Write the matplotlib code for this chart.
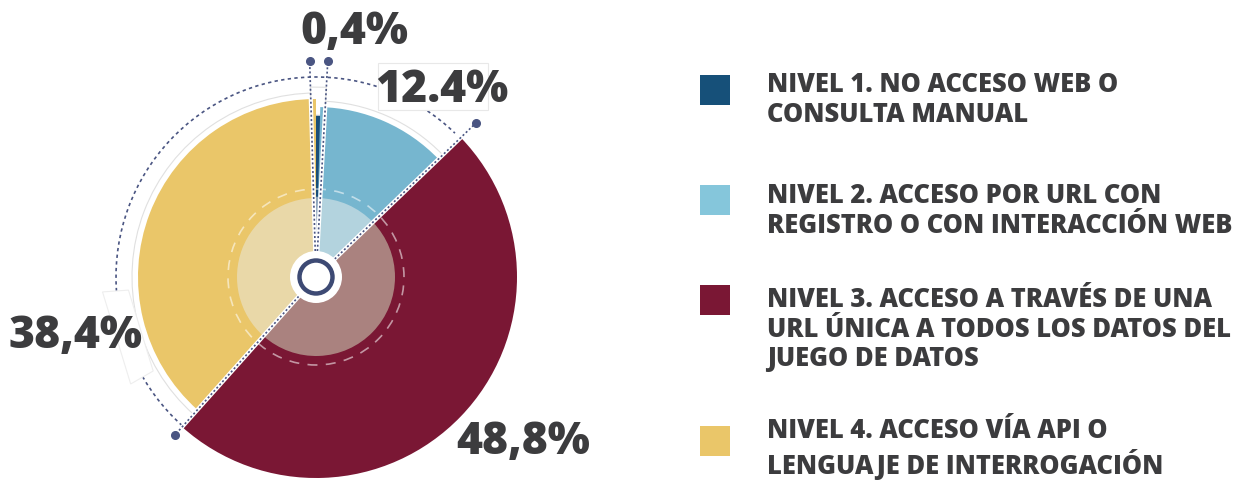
import numpy as np
import matplotlib
matplotlib.use("Agg")
import matplotlib.pyplot as plt
from matplotlib.patches import Wedge, Circle, Arc, Polygon, Rectangle

plt.rcParams['font.family'] = ['Open Sans', 'DejaVu Sans']

levels = ["NIVEL 1", "NIVEL 2", "NIVEL 3", "NIVEL 4"]
shares = [0.4, 12.4, 48.8, 38.4]
share_labels = ["0,4%", "12.4%", "48,8%", "38,4%"]
legend_texts = [
    "NIVEL 1. NO ACCESO WEB O\nCONSULTA MANUAL",
    "NIVEL 2. ACCESO POR URL CON\nREGISTRO O CON INTERACCIÓN WEB",
    "NIVEL 3. ACCESO A TRAVÉS DE UNA\nURL ÚNICA A TODOS LOS DATOS DEL\nJUEGO DE DATOS",
    "NIVEL 4. ACCESO VÍA API O\nLENGUAJE DE INTERROGACIÓN",
]

colors = ["#1A4E78", "#76B6CF", "#7A1734", "#EAC669"]
legend_colors = ["#165079", "#85C6DB", "#7A1734", "#EAC669"]
inner_colors = ["#8FA6BC", "#B3D3DE", "#AA827F", "#E9D8A8"]
radii = [160, 170, 201, 178]
text_color = "#3C3C3E"
navy = "#4A5582"

cx, cy = 316, 277

fig = plt.figure(figsize=(12.48, 4.82), dpi=100)
ax = fig.add_axes([0, 0, 1, 1])
ax.set_xlim(0, 1248)
ax.set_ylim(482, 0)
ax.set_aspect('equal')
ax.axis('off')


def pt(r, a):
    # a: data angle in degrees (y axis inverted -> clockwise on screen)
    return cx + r * np.cos(np.radians(a)), cy + r * np.sin(np.radians(a))


fr = np.array(shares) / sum(shares)
cum = np.concatenate([[0], np.cumsum(fr)])
t1 = -90 + 360 * cum[:-1]
t2 = -90 + 360 * cum[1:]

# outer dotted arc and faint outlines
ax.add_patch(Arc((cx, cy), 400, 400, theta1=-228, theta2=-46, color=navy,
                 lw=1.2, ls=(0, (2, 2)), zorder=1))
for i in (1, 3):
    ax.add_patch(Arc((cx, cy), 2 * (radii[i] + 6), 2 * (radii[i] + 6),
                     theta1=t1[i], theta2=t2[i], color="#E0E0E0", lw=0.8, zorder=1))

# label boxes
ax.add_patch(Rectangle((378, 63), 110, 47, facecolor="white",
                       edgecolor="#E8E8E8", lw=0.8, zorder=2))
a0, a1 = -184, -210
box = [pt(188, a0), pt(214, a0), pt(214, a1), pt(188, a1)]
ax.add_patch(Polygon(box, closed=True, facecolor="white", edgecolor="#EEEEEE",
                     lw=0.8, zorder=2))
m0 = (t1[0] + t2[0]) / 2
box2 = [pt(162, m0 - 2.4), pt(190, m0 - 2.4), pt(190, m0 + 2.4), pt(162, m0 + 2.4)]
ax.add_patch(Polygon(box2, closed=True, facecolor="white", edgecolor="#E0E0E0",
                     lw=0.8, zorder=2))

# slices
for i in range(4):
    ax.add_patch(Wedge((cx, cy), radii[i], t1[i], t2[i], facecolor=colors[i],
                       edgecolor=colors[i] if i == 0 else "none", lw=1.8, zorder=3))
    ax.add_patch(Wedge((cx, cy), 79, t1[i], t2[i], facecolor=inner_colors[i],
                       edgecolor=inner_colors[i] if i == 0 else "none", lw=1.8, zorder=4))

ax.add_patch(Circle((cx, cy), 88, fill=False, edgecolor="white", alpha=0.55,
                    lw=1.2, ls=(0, (6, 5)), zorder=4))

# white gaps between slices
gaps = [(m0 - 2.4, radii[3] + 2), (m0 + 2.4, radii[1] + 2), (t2[1], radii[2] + 2), (t2[2], radii[2] + 2)]
for a, r in gaps:
    x1, y1 = pt(r, a)
    ax.plot([cx, x1], [cy, y1], color="white", lw=3, solid_capstyle='butt', zorder=5)

# dotted leader lines
leaders = [(m0 - 2.4, 216), (m0 + 2.4, 216), (t2[1], 222), (t2[2], 212)]
for a, r in leaders:
    x1, y1 = pt(r, a)
    ax.plot([cx, x1], [cy, y1], color=navy, lw=1.2, ls=(0, (1.2, 1.4)), zorder=6)
    ax.plot(x1, y1, 'o', color=navy, ms=5.5, zorder=6)

# center
ax.add_patch(Circle((cx, cy), 26, facecolor="white", edgecolor="none", zorder=7))
ax.add_patch(Circle((cx, cy), 16.5, fill=False, edgecolor="#3D4A74", lw=3.2, zorder=8))

# percentage labels
label_pos = [(354, 33), (442, 91), (523, 442), (75, 336)]
for (x, y), s in zip(label_pos, share_labels):
    ax.text(x, y, s, fontsize=32, fontweight='heavy', color=text_color,
            ha='center', va='center', zorder=9)

# legend
sq_y = [90, 200, 300, 441]
txt_y = [72, 183, 287, 418]
for i in range(4):
    ax.add_patch(Rectangle((700, sq_y[i] - 15), 30, 30, facecolor=legend_colors[i],
                           edgecolor="none"))
    ax.text(767, txt_y[i], legend_texts[i], fontsize=18.4, fontweight='heavy',
            color=text_color, ha='left', va='top', linespacing=1.18)

fig.savefig("out.png", dpi=100)
